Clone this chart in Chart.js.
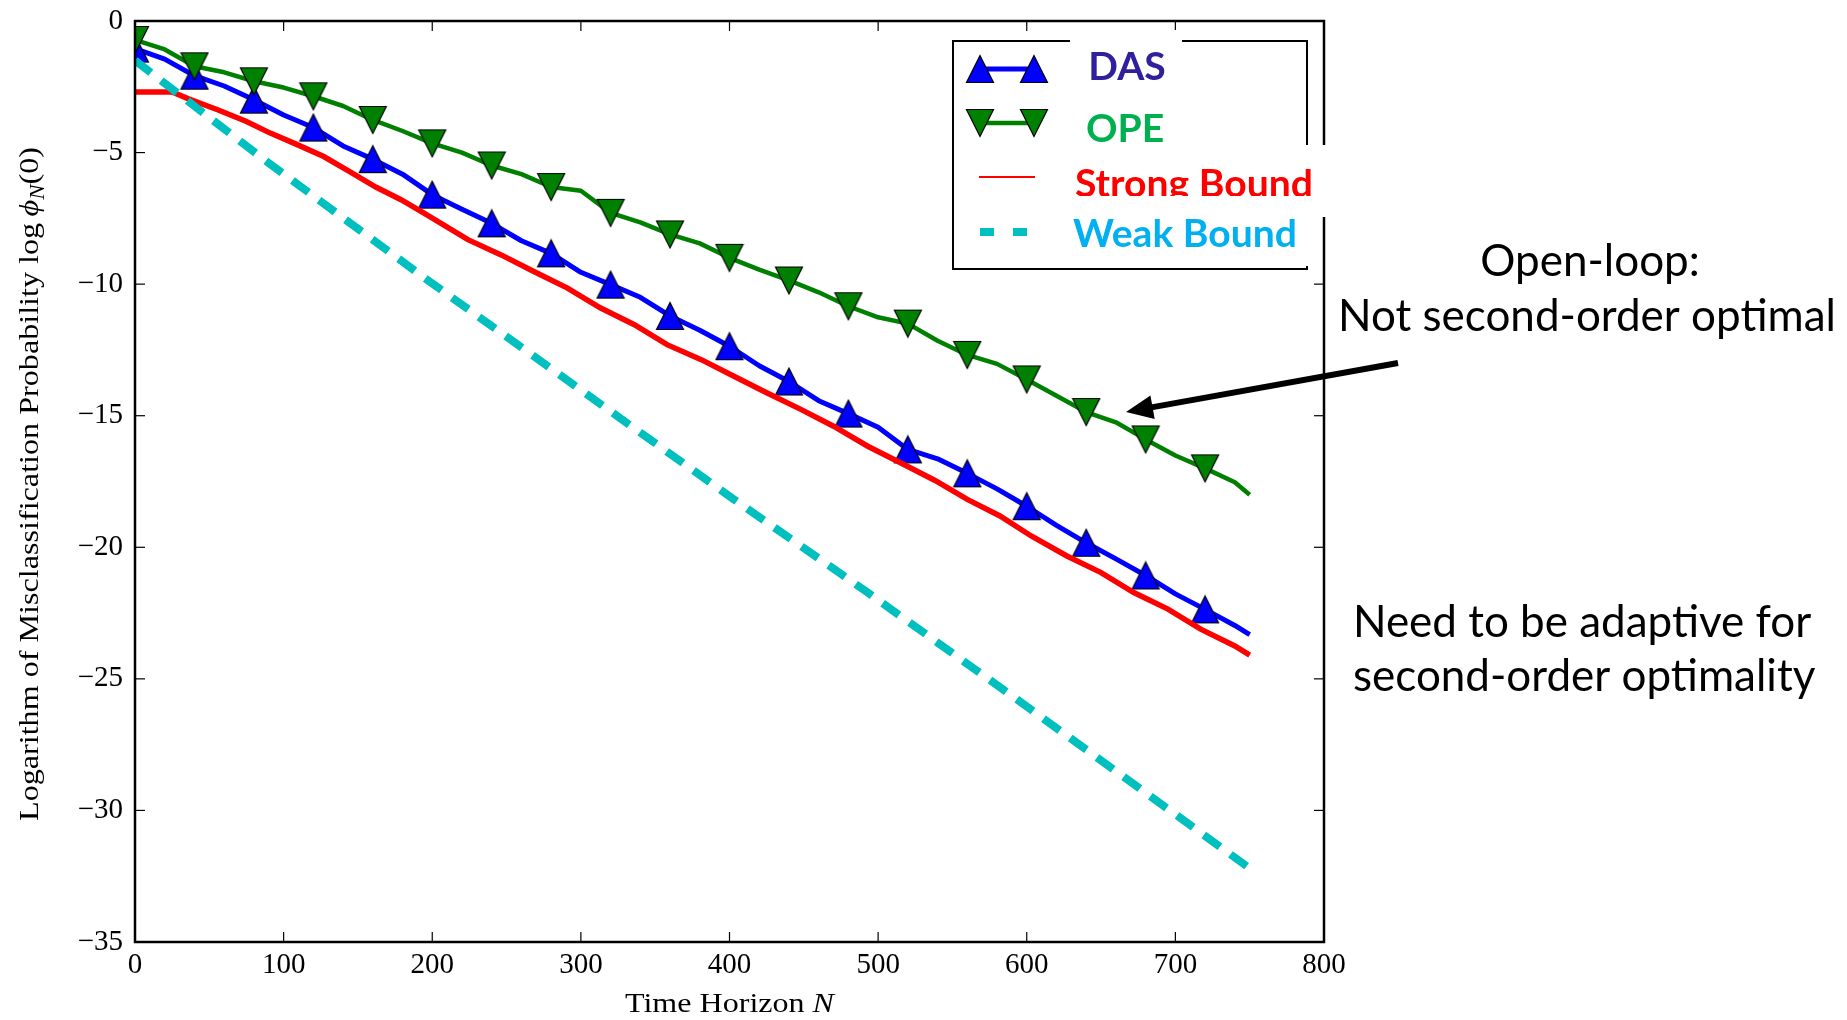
<!DOCTYPE html>
<html lang="en">
<head>
  <meta charset="utf-8">
  <title>Misclassification probability vs time horizon</title>
  <style>
    html, body { margin: 0; padding: 0; background: #fff; }
    #wrap { width: 1847px; height: 1020px; }
  </style>
</head>
<body>
  <div id="wrap"><canvas id="myChart" width="1847" height="1020"></canvas></div>

  <script src="https://cdn.jsdelivr.net/npm/chart.js"></script>
  <script>
    // values (time horizon N -> log phi_N(0))
    var dasN = [0, 20, 40, 60, 80, 100, 120, 140, 160, 180, 200, 220, 240, 260, 280, 300, 320, 340, 360, 380,
                400, 420, 440, 460, 480, 500, 520, 540, 560, 580, 600, 620, 640, 660, 680, 700, 720, 740, 750];
    var dasVal = [-1.05, -1.45, -2.08, -2.47, -2.99, -3.57, -4.05, -4.75, -5.25, -5.82, -6.6, -7.15, -7.69, -8.35,
                  -8.83, -9.55, -10.02, -10.5, -11.21, -11.75, -12.36, -13.1, -13.7, -14.43, -14.92, -15.44, -16.28,
                  -16.64, -17.19, -17.78, -18.44, -19.17, -19.83, -20.44, -21.07, -21.77, -22.36, -22.97, -23.32];

    var opeN = dasN;
    var opeVal = [-0.72, -1.08, -1.72, -1.95, -2.29, -2.53, -2.86, -3.23, -3.76, -4.18, -4.65, -5.0, -5.49, -5.82,
                  -6.31, -6.45, -7.29, -7.65, -8.11, -8.45, -9.0, -9.45, -9.86, -10.31, -10.84, -11.26, -11.5,
                  -12.15, -12.69, -13.03, -13.62, -14.24, -14.86, -15.25, -15.9, -16.51, -17.0, -17.53, -18.0];

    var strongN = [0, 25, 36, 56, 75, 91, 108, 127, 145, 162, 179, 195, 224, 246, 268, 291, 313, 336, 358, 381,
                   403, 425, 448, 470, 493, 515, 538, 560, 582, 603, 627, 650, 672, 695, 717, 740, 750];
    var strongVal = [-2.7, -2.7, -2.96, -3.38, -3.82, -4.26, -4.67, -5.15, -5.74, -6.31, -6.79, -7.32, -8.31, -8.88,
                     -9.51, -10.15, -10.9, -11.54, -12.3, -12.87, -13.5, -14.13, -14.76, -15.4, -16.16, -16.79,
                     -17.45, -18.18, -18.81, -19.57, -20.33, -20.96, -21.72, -22.35, -23.11, -23.75, -24.1];

    var weakN = [0, 90, 195, 334, 403, 493, 600, 750];
    var weakVal = [-1.5, -5.4, -9.77, -15.4, -18.18, -21.72, -26.05, -32.2];

    var xTicks = [0, 100, 200, 300, 400, 500, 600, 700, 800];
    var yTicks = [0, -5, -10, -15, -20, -25, -30, -35];
    var markEvery = 40;

    var serif = '"Liberation Serif", "DejaVu Serif", serif';

    function pts(ns, vs) {
      return ns.map(function (n, i) { return {x: n, y: vs[i]}; });
    }

    // matplotlib style triangle marker (centered on its bounding box)
    function triangle(color, down) {
      var c = document.createElement('canvas');
      c.width = 30; c.height = 30;
      var g = c.getContext('2d');
      g.beginPath();
      if (down) { g.moveTo(15, 28.5); g.lineTo(1.5, 1.5); g.lineTo(28.5, 1.5); }
      else { g.moveTo(15, 1.5); g.lineTo(1.5, 28.5); g.lineTo(28.5, 28.5); }
      g.closePath();
      g.fillStyle = color; g.fill();
      g.lineWidth = 1.2; g.strokeStyle = '#000'; g.stroke();
      return c;
    }
    var upTri = triangle('#0000ff', false);
    var downTri = triangle('#008000', true);

    function markerRadius(ctx) {
      return ctx.raw && ctx.raw.x % markEvery === 0 ? 14 : 0;
    }

    function line(ctx, x1, y1, x2, y2) {
      ctx.beginPath(); ctx.moveTo(x1, y1); ctx.lineTo(x2, y2); ctx.stroke();
    }

    // draws a run of text pieces with different fonts, returns total width
    function runs(ctx, parts, x, y, measureOnly) {
      var w = 0;
      parts.forEach(function (p) {
        ctx.font = p.f;
        if (!measureOnly) ctx.fillText(p.t, x + w, y + (p.dy || 0));
        w += ctx.measureText(p.t).width;
      });
      return w;
    }

    // text run stretched along its direction to a target length (serif in the original is wider)
    function stretched(ctx, parts, cx, cy, baseOff, target, rot) {
      var w = runs(ctx, parts, 0, 0, true);
      var k = target / w;
      ctx.save();
      ctx.translate(cx, cy);
      if (rot) ctx.rotate(rot);
      ctx.scale(k, 1);
      runs(ctx, parts, -w / 2, baseOff, false);
      ctx.restore();
    }

    function fitSize(ctx, text, weight, family, target) {
      ctx.font = weight + ' 100px ' + family;
      return 100 * target / ctx.measureText(text).width;
    }

    function arrow(ctx, x1, y1, x2, y2) {
      var ang = Math.atan2(y2 - y1, x2 - x1), head = 27, half = 12;
      var bx = x2 - head * Math.cos(ang), by = y2 - head * Math.sin(ang);
      ctx.lineWidth = 6;
      line(ctx, x1, y1, bx + 4 * Math.cos(ang), by + 4 * Math.sin(ang));
      ctx.beginPath();
      ctx.moveTo(x2, y2);
      ctx.lineTo(bx + half * Math.sin(ang), by - half * Math.cos(ang));
      ctx.lineTo(bx - half * Math.sin(ang), by + half * Math.cos(ang));
      ctx.closePath();
      ctx.fill();
    }

    var decor = {
      id: 'decor',
      afterDraw: function (chart) {
        var ctx = chart.ctx, a = chart.chartArea, sx = chart.scales.x, sy = chart.scales.y;
        ctx.save();
        ctx.strokeStyle = '#000'; ctx.fillStyle = '#000';

        // inward ticks on all four sides
        ctx.lineWidth = 1.2;
        xTicks.forEach(function (v) {
          var px = sx.getPixelForValue(v);
          line(ctx, px, a.bottom, px, a.bottom - 10);
          line(ctx, px, a.top, px, a.top + 10);
        });
        yTicks.forEach(function (v) {
          var py = sy.getPixelForValue(v);
          line(ctx, a.left, py, a.left + 10, py);
          line(ctx, a.right, py, a.right - 10, py);
        });

        // frame
        ctx.lineWidth = 2.5;
        ctx.strokeRect(a.left, a.top, a.right - a.left, a.bottom - a.top);

        // axis titles
        ctx.textAlign = 'left'; ctx.textBaseline = 'alphabetic';
        var xs = 28;
        stretched(ctx, [{t: 'Time Horizon ', f: xs + 'px ' + serif}, {t: 'N', f: 'italic ' + xs + 'px ' + serif}],
          (a.left + a.right) / 2, 1012, 0, 209, 0);

        var ys = 28;
        stretched(ctx, [
          {t: 'Logarithm of Misclassification Probability log\u2009', f: ys + 'px ' + serif},
          {t: '\u03d5', f: 'italic ' + ys + 'px ' + serif},
          {t: 'N', f: 'italic ' + Math.round(ys * 0.7) + 'px ' + serif, dy: ys * 0.2},
          {t: '(0)', f: ys + 'px ' + serif}
        ], 29, 484, ys * 0.32, 674, -Math.PI / 2);

        // legend frame
        ctx.fillStyle = '#fff';
        ctx.fillRect(953, 41, 354, 228);
        ctx.lineWidth = 2; ctx.strokeStyle = '#000';
        ctx.strokeRect(953, 41, 354, 228);

        // legend samples
        var ds = chart.data.datasets;
        ctx.lineWidth = 5; ctx.strokeStyle = ds[0].borderColor;
        line(ctx, 980, 69, 1034, 69);
        ctx.drawImage(upTri, 965, 54); ctx.drawImage(upTri, 1019, 54);
        ctx.lineWidth = 4.5; ctx.strokeStyle = ds[1].borderColor;
        line(ctx, 980, 123, 1034, 123);
        ctx.drawImage(downTri, 965, 108); ctx.drawImage(downTri, 1019, 108);
        ctx.lineWidth = 2; ctx.strokeStyle = ds[2].borderColor;
        line(ctx, 979, 177, 1035, 177);
        ctx.lineWidth = 8; ctx.strokeStyle = ds[3].borderColor; ctx.setLineDash([14, 19]);
        line(ctx, 980, 232, 1028, 232);
        ctx.setLineDash([]);

        // legend labels (pasted text boxes on white background)
        var lf = '"Lato", "Open Sans", sans-serif';
        var ls = fitSize(ctx, 'Strong Bound', 'bold', lf, 238);
        var cap = ls * 0.358;
        ctx.font = 'bold ' + ls + 'px ' + lf;
        ctx.fillStyle = '#fff'; ctx.fillRect(1070, 30, 112, 70);
        ctx.fillStyle = '#30209e'; ctx.textAlign = 'center';
        ctx.fillText('DAS', 1127, 66 + cap);
        ctx.fillStyle = '#00b050';
        ctx.fillText('OPE', 1125, 128 + cap);
        ctx.textAlign = 'left';
        ctx.fillStyle = '#fff'; ctx.fillRect(1068, 145, 260, 72);
        ctx.fillStyle = '#ff0000';
        ctx.fillText('Strong Bound', 1075, 183 + cap);
        ctx.fillStyle = '#fff'; ctx.fillRect(1065, 196, 247, 70);
        ctx.fillStyle = '#00b0f0';
        ctx.fillText('Weak Bound', 1073, 233 + cap);

        // annotations
        var af = '"Lato", "Open Sans", sans-serif';
        var as = fitSize(ctx, 'Not second-order optimal', 'normal', af, 498);
        ctx.font = as + 'px ' + af;
        ctx.fillStyle = '#000';
        ctx.textAlign = 'center';
        ctx.fillText('Open-loop:', 1590, 276);
        ctx.fillText('Not second-order optimal', 1587, 331);
        ctx.textAlign = 'left';
        ctx.fillText('Need to be adaptive for', 1353, 637);
        ctx.fillText('second-order optimality', 1353, 691);

        ctx.strokeStyle = '#000'; ctx.fillStyle = '#000';
        arrow(ctx, 1398, 363, 1126, 412);
        ctx.restore();
      }
    };

    var tickFont = {family: serif, size: 29};
    function minus(v) { return String(v).replace('-', '\u2212'); }

    var ctx = document.getElementById('myChart').getContext('2d');
    var chart = new Chart(ctx, {
      type: 'line',
      data: {
        datasets: [{
          label: 'DAS',
          data: pts(dasN, dasVal),
          borderColor: '#0000ff',
          borderWidth: 5,
          borderJoinStyle: 'round',
          pointStyle: upTri,
          pointRadius: markerRadius,
          order: 4
        }, {
          label: 'OPE',
          data: pts(opeN, opeVal),
          borderColor: '#008000',
          borderWidth: 4.5,
          borderJoinStyle: 'round',
          pointStyle: downTri,
          pointRadius: markerRadius,
          order: 3
        }, {
          label: 'Strong Bound',
          data: pts(strongN, strongVal),
          borderColor: '#ff0000',
          borderWidth: 5.5,
          pointRadius: 0,
          order: 2
        }, {
          label: 'Weak Bound',
          data: pts(weakN, weakVal),
          borderColor: '#00bfbf',
          borderWidth: 8,
          borderDash: [20, 13],
          borderCapStyle: 'butt',
          pointRadius: 0,
          order: 1
        }]
      },
      options: {
        responsive: false,
        animation: false,
        devicePixelRatio: 1,
        layout: {padding: {top: 21, right: 523, left: 0, bottom: 0}},
        plugins: {legend: {display: false}, tooltip: {enabled: false}},
        scales: {
          x: {
            type: 'linear', min: 0, max: 800,
            afterBuildTicks: function (s) { s.ticks = xTicks.map(function (v) { return {value: v}; }); },
            afterFit: function (s) { s.height = 78; s.paddingLeft = 0; s.paddingRight = 0; },
            ticks: {font: tickFont, color: '#000', padding: 6, maxRotation: 0, autoSkip: false},
            grid: {display: false, drawTicks: false},
            border: {display: false}
          },
          y: {
            type: 'linear', min: -35, max: 0,
            afterBuildTicks: function (s) { s.ticks = yTicks.map(function (v) { return {value: v}; }); },
            afterFit: function (s) { s.width = 135; s.paddingTop = 0; s.paddingBottom = 0; },
            ticks: {font: tickFont, color: '#000', padding: 12, callback: minus, autoSkip: false},
            grid: {display: false, drawTicks: false},
            border: {display: false}
          }
        }
      },
      plugins: [decor]
    });
  </script>
</body>
</html>
